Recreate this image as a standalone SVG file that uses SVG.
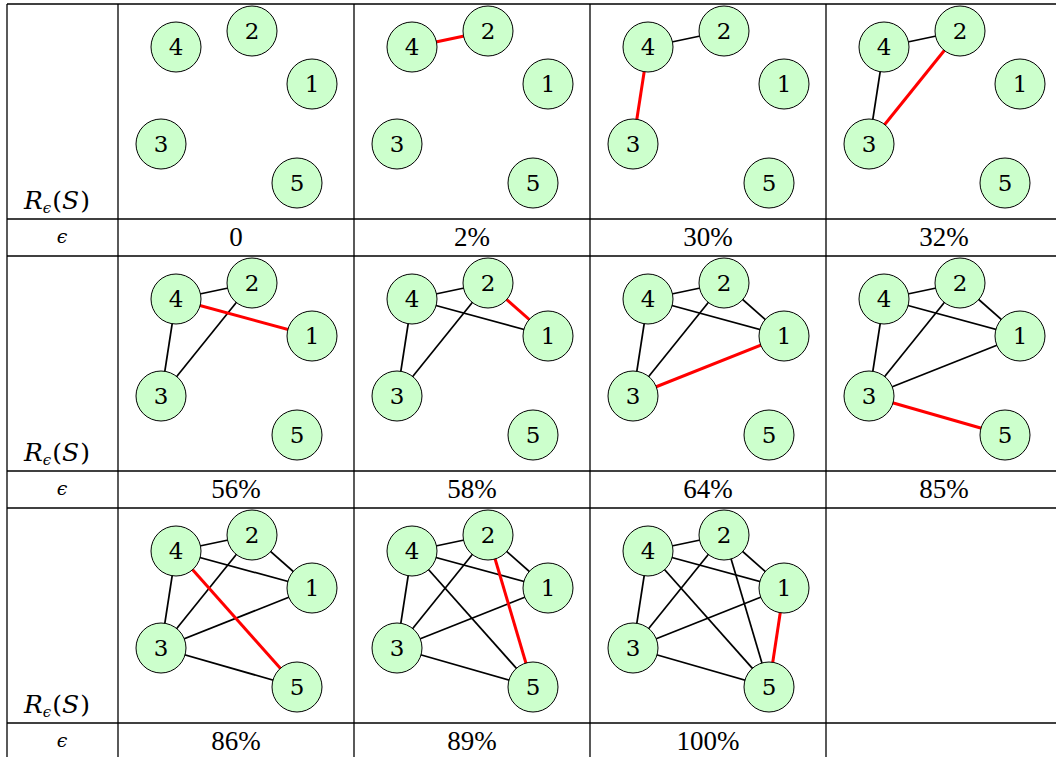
<svg xmlns="http://www.w3.org/2000/svg" width="1056" height="757" viewBox="0 0 1056 757">
<style>
.grid{stroke:#000;stroke-width:1.3;fill:none}
.e{stroke:#000;stroke-width:1.7;fill:none}
.r{stroke:#ff0000;stroke-width:3;fill:none}
.n circle{fill:#ccffcc;stroke:#000;stroke-width:1}
.n text{font-family:'DejaVu Serif',serif;font-size:23px;text-anchor:middle;fill:#000}
.lab text{font-size:27px;text-anchor:middle;fill:#000}
.rl{font-family:'DejaVu Serif',serif;font-size:25px;fill:#000}
.eps{font-family:'DejaVu Serif',serif;font-size:19px;font-style:italic;text-anchor:middle;fill:#000}
</style>
<rect width="1056" height="757" fill="#fff"/>
<g id="table" class="grid">
<line x1="7" y1="4" x2="1056" y2="4"/>
<line x1="7" y1="219" x2="1056" y2="219"/>
<line x1="7" y1="256" x2="1056" y2="256"/>
<line x1="7" y1="471" x2="1056" y2="471"/>
<line x1="7" y1="508" x2="1056" y2="508"/>
<line x1="7" y1="723" x2="1056" y2="723"/>
<line x1="7" y1="4" x2="7" y2="757"/>
<line x1="118" y1="4" x2="118" y2="757"/>
<line x1="354" y1="4" x2="354" y2="757"/>
<line x1="590" y1="4" x2="590" y2="757"/>
<line x1="826" y1="4" x2="826" y2="757"/>
</g>
<g id="row-labels">
<text class="rl" x="24" y="209"><tspan font-style="italic">R</tspan><tspan font-style="italic" font-size="15" dy="4">ϵ</tspan><tspan dy="-4" dx="1">(</tspan><tspan font-style="italic">S</tspan><tspan dx="1">)</tspan></text>
<text class="rl" x="24" y="461"><tspan font-style="italic">R</tspan><tspan font-style="italic" font-size="15" dy="4">ϵ</tspan><tspan dy="-4" dx="1">(</tspan><tspan font-style="italic">S</tspan><tspan dx="1">)</tspan></text>
<text class="rl" x="24" y="713"><tspan font-style="italic">R</tspan><tspan font-style="italic" font-size="15" dy="4">ϵ</tspan><tspan dy="-4" dx="1">(</tspan><tspan font-style="italic">S</tspan><tspan dx="1">)</tspan></text>
<text class="eps" x="62" y="243">ϵ</text>
<text class="eps" x="62" y="495">ϵ</text>
<text class="eps" x="62" y="747">ϵ</text>
</g>
<g id="eps-values" class="lab" font-family="Liberation Serif">
<text x="236" y="246">0</text>
<text x="472" y="246">2%</text>
<text x="708" y="246">30%</text>
<text x="944" y="246">32%</text>
<text x="236" y="498">56%</text>
<text x="472" y="498">58%</text>
<text x="708" y="498">64%</text>
<text x="944" y="498">85%</text>
<text x="236" y="750">86%</text>
<text x="472" y="750">89%</text>
<text x="708" y="750">100%</text>
</g>
<g id="connectors">
<line class="r" x1="412" y1="47" x2="488" y2="31"/>
<line class="e" x1="648" y1="47" x2="724" y2="31"/>
<line class="r" x1="648" y1="47" x2="633" y2="144"/>
<line class="e" x1="884" y1="47" x2="960" y2="31"/>
<line class="e" x1="884" y1="47" x2="869" y2="144"/>
<line class="r" x1="960" y1="31" x2="869" y2="144"/>
<line class="e" x1="176" y1="299" x2="252" y2="283"/>
<line class="e" x1="176" y1="299" x2="161" y2="396"/>
<line class="e" x1="252" y1="283" x2="161" y2="396"/>
<line class="r" x1="176" y1="299" x2="312" y2="336"/>
<line class="e" x1="412" y1="299" x2="488" y2="283"/>
<line class="e" x1="412" y1="299" x2="397" y2="396"/>
<line class="e" x1="488" y1="283" x2="397" y2="396"/>
<line class="e" x1="412" y1="299" x2="548" y2="336"/>
<line class="r" x1="488" y1="283" x2="548" y2="336"/>
<line class="e" x1="648" y1="299" x2="724" y2="283"/>
<line class="e" x1="648" y1="299" x2="633" y2="396"/>
<line class="e" x1="724" y1="283" x2="633" y2="396"/>
<line class="e" x1="648" y1="299" x2="784" y2="336"/>
<line class="e" x1="724" y1="283" x2="784" y2="336"/>
<line class="r" x1="633" y1="396" x2="784" y2="336"/>
<line class="e" x1="884" y1="299" x2="960" y2="283"/>
<line class="e" x1="884" y1="299" x2="869" y2="396"/>
<line class="e" x1="960" y1="283" x2="869" y2="396"/>
<line class="e" x1="884" y1="299" x2="1020" y2="336"/>
<line class="e" x1="960" y1="283" x2="1020" y2="336"/>
<line class="e" x1="869" y1="396" x2="1020" y2="336"/>
<line class="r" x1="869" y1="396" x2="1005" y2="435"/>
<line class="e" x1="176" y1="551" x2="252" y2="535"/>
<line class="e" x1="176" y1="551" x2="161" y2="648"/>
<line class="e" x1="252" y1="535" x2="161" y2="648"/>
<line class="e" x1="176" y1="551" x2="312" y2="588"/>
<line class="e" x1="252" y1="535" x2="312" y2="588"/>
<line class="e" x1="161" y1="648" x2="312" y2="588"/>
<line class="e" x1="161" y1="648" x2="297" y2="687"/>
<line class="r" x1="176" y1="551" x2="297" y2="687"/>
<line class="e" x1="412" y1="551" x2="488" y2="535"/>
<line class="e" x1="412" y1="551" x2="397" y2="648"/>
<line class="e" x1="488" y1="535" x2="397" y2="648"/>
<line class="e" x1="412" y1="551" x2="548" y2="588"/>
<line class="e" x1="488" y1="535" x2="548" y2="588"/>
<line class="e" x1="397" y1="648" x2="548" y2="588"/>
<line class="e" x1="397" y1="648" x2="533" y2="687"/>
<line class="e" x1="412" y1="551" x2="533" y2="687"/>
<line class="r" x1="488" y1="535" x2="533" y2="687"/>
<line class="e" x1="648" y1="551" x2="724" y2="535"/>
<line class="e" x1="648" y1="551" x2="633" y2="648"/>
<line class="e" x1="724" y1="535" x2="633" y2="648"/>
<line class="e" x1="648" y1="551" x2="784" y2="588"/>
<line class="e" x1="724" y1="535" x2="784" y2="588"/>
<line class="e" x1="633" y1="648" x2="784" y2="588"/>
<line class="e" x1="633" y1="648" x2="769" y2="687"/>
<line class="e" x1="648" y1="551" x2="769" y2="687"/>
<line class="e" x1="724" y1="535" x2="769" y2="687"/>
<line class="r" x1="784" y1="588" x2="769" y2="687"/>
</g>
<g id="nodes">
<g id="r1c1-n4" class="n"><circle cx="176" cy="47" r="25"/><text x="176" y="55">4</text></g>
<g id="r1c1-n2" class="n"><circle cx="252" cy="31" r="25"/><text x="252" y="39">2</text></g>
<g id="r1c1-n1" class="n"><circle cx="312" cy="84" r="25"/><text x="312" y="92">1</text></g>
<g id="r1c1-n3" class="n"><circle cx="161" cy="144" r="25"/><text x="161" y="152">3</text></g>
<g id="r1c1-n5" class="n"><circle cx="297" cy="183" r="25"/><text x="297" y="191">5</text></g>
<g id="r1c2-n4" class="n"><circle cx="412" cy="47" r="25"/><text x="412" y="55">4</text></g>
<g id="r1c2-n2" class="n"><circle cx="488" cy="31" r="25"/><text x="488" y="39">2</text></g>
<g id="r1c2-n1" class="n"><circle cx="548" cy="84" r="25"/><text x="548" y="92">1</text></g>
<g id="r1c2-n3" class="n"><circle cx="397" cy="144" r="25"/><text x="397" y="152">3</text></g>
<g id="r1c2-n5" class="n"><circle cx="533" cy="183" r="25"/><text x="533" y="191">5</text></g>
<g id="r1c3-n4" class="n"><circle cx="648" cy="47" r="25"/><text x="648" y="55">4</text></g>
<g id="r1c3-n2" class="n"><circle cx="724" cy="31" r="25"/><text x="724" y="39">2</text></g>
<g id="r1c3-n1" class="n"><circle cx="784" cy="84" r="25"/><text x="784" y="92">1</text></g>
<g id="r1c3-n3" class="n"><circle cx="633" cy="144" r="25"/><text x="633" y="152">3</text></g>
<g id="r1c3-n5" class="n"><circle cx="769" cy="183" r="25"/><text x="769" y="191">5</text></g>
<g id="r1c4-n4" class="n"><circle cx="884" cy="47" r="25"/><text x="884" y="55">4</text></g>
<g id="r1c4-n2" class="n"><circle cx="960" cy="31" r="25"/><text x="960" y="39">2</text></g>
<g id="r1c4-n1" class="n"><circle cx="1020" cy="84" r="25"/><text x="1020" y="92">1</text></g>
<g id="r1c4-n3" class="n"><circle cx="869" cy="144" r="25"/><text x="869" y="152">3</text></g>
<g id="r1c4-n5" class="n"><circle cx="1005" cy="183" r="25"/><text x="1005" y="191">5</text></g>

<g id="r2c1-n4" class="n"><circle cx="176" cy="299" r="25"/><text x="176" y="307">4</text></g>
<g id="r2c1-n2" class="n"><circle cx="252" cy="283" r="25"/><text x="252" y="291">2</text></g>
<g id="r2c1-n1" class="n"><circle cx="312" cy="336" r="25"/><text x="312" y="344">1</text></g>
<g id="r2c1-n3" class="n"><circle cx="161" cy="396" r="25"/><text x="161" y="404">3</text></g>
<g id="r2c1-n5" class="n"><circle cx="297" cy="435" r="25"/><text x="297" y="443">5</text></g>
<g id="r2c2-n4" class="n"><circle cx="412" cy="299" r="25"/><text x="412" y="307">4</text></g>
<g id="r2c2-n2" class="n"><circle cx="488" cy="283" r="25"/><text x="488" y="291">2</text></g>
<g id="r2c2-n1" class="n"><circle cx="548" cy="336" r="25"/><text x="548" y="344">1</text></g>
<g id="r2c2-n3" class="n"><circle cx="397" cy="396" r="25"/><text x="397" y="404">3</text></g>
<g id="r2c2-n5" class="n"><circle cx="533" cy="435" r="25"/><text x="533" y="443">5</text></g>
<g id="r2c3-n4" class="n"><circle cx="648" cy="299" r="25"/><text x="648" y="307">4</text></g>
<g id="r2c3-n2" class="n"><circle cx="724" cy="283" r="25"/><text x="724" y="291">2</text></g>
<g id="r2c3-n1" class="n"><circle cx="784" cy="336" r="25"/><text x="784" y="344">1</text></g>
<g id="r2c3-n3" class="n"><circle cx="633" cy="396" r="25"/><text x="633" y="404">3</text></g>
<g id="r2c3-n5" class="n"><circle cx="769" cy="435" r="25"/><text x="769" y="443">5</text></g>
<g id="r2c4-n4" class="n"><circle cx="884" cy="299" r="25"/><text x="884" y="307">4</text></g>
<g id="r2c4-n2" class="n"><circle cx="960" cy="283" r="25"/><text x="960" y="291">2</text></g>
<g id="r2c4-n1" class="n"><circle cx="1020" cy="336" r="25"/><text x="1020" y="344">1</text></g>
<g id="r2c4-n3" class="n"><circle cx="869" cy="396" r="25"/><text x="869" y="404">3</text></g>
<g id="r2c4-n5" class="n"><circle cx="1005" cy="435" r="25"/><text x="1005" y="443">5</text></g>

<g id="r3c1-n4" class="n"><circle cx="176" cy="551" r="25"/><text x="176" y="559">4</text></g>
<g id="r3c1-n2" class="n"><circle cx="252" cy="535" r="25"/><text x="252" y="543">2</text></g>
<g id="r3c1-n1" class="n"><circle cx="312" cy="588" r="25"/><text x="312" y="596">1</text></g>
<g id="r3c1-n3" class="n"><circle cx="161" cy="648" r="25"/><text x="161" y="656">3</text></g>
<g id="r3c1-n5" class="n"><circle cx="297" cy="687" r="25"/><text x="297" y="695">5</text></g>
<g id="r3c2-n4" class="n"><circle cx="412" cy="551" r="25"/><text x="412" y="559">4</text></g>
<g id="r3c2-n2" class="n"><circle cx="488" cy="535" r="25"/><text x="488" y="543">2</text></g>
<g id="r3c2-n1" class="n"><circle cx="548" cy="588" r="25"/><text x="548" y="596">1</text></g>
<g id="r3c2-n3" class="n"><circle cx="397" cy="648" r="25"/><text x="397" y="656">3</text></g>
<g id="r3c2-n5" class="n"><circle cx="533" cy="687" r="25"/><text x="533" y="695">5</text></g>
<g id="r3c3-n4" class="n"><circle cx="648" cy="551" r="25"/><text x="648" y="559">4</text></g>
<g id="r3c3-n2" class="n"><circle cx="724" cy="535" r="25"/><text x="724" y="543">2</text></g>
<g id="r3c3-n1" class="n"><circle cx="784" cy="588" r="25"/><text x="784" y="596">1</text></g>
<g id="r3c3-n3" class="n"><circle cx="633" cy="648" r="25"/><text x="633" y="656">3</text></g>
<g id="r3c3-n5" class="n"><circle cx="769" cy="687" r="25"/><text x="769" y="695">5</text></g>
</g>
</svg>
